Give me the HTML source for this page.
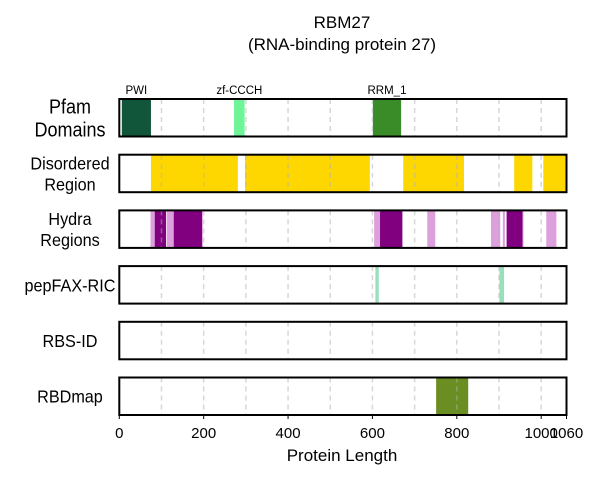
<!DOCTYPE html>
<html><head><meta charset="utf-8"><style>
body{margin:0;background:#fff;}
svg text{font-family:"Liberation Sans",Arial,sans-serif;fill:#000;}
</style></head><body>
<svg id="chart" width="600" height="480" xmlns="http://www.w3.org/2000/svg">
<text x="342" y="28" font-size="17" text-anchor="middle">RBM27</text>
<text x="342" y="50" font-size="17" text-anchor="middle">(RNA-binding protein 27)</text>
<g id="tracks"></g>
<g id="axis"></g>
<text x="342" y="461" font-size="17" text-anchor="middle">Protein Length</text>
</svg>
<script>
const trackNames = ["Pfam\nDomains","Disordered\nRegion","Hydra\nRegions","pepFAX-RIC","RBS-ID","RBDmap"];
const pfamStarts = [6, 272, 601];
const pfamEnds = [75, 297, 668];
const pfamLabels = ["PWI","zf-CCCH","RRM_1"];
const pfamColors = ["#11553a","#6ef59a","#3a8c29"];
const disStarts = [75, 298, 673, 936, 1005];
const disEnds = [281, 594, 817, 979, 1060];
const hydraStarts = [74, 84, 113, 129, 196, 604, 618, 730, 881, 909, 918, 956, 1012];
const hydraEnds = [84, 111, 129, 196, 198, 618, 671, 749, 903, 914, 956, 958, 1036];
const hydraStrong = [0, 1, 0, 1, 0, 0, 1, 0, 0, 0, 1, 0, 0];
const pepStarts = [607, 901];
const pepEnds = [615, 912];
const rbdStarts = [751];
const rbdEnds = [827];
const xTicks = [0, 200, 400, 600, 800, 1000, 1060];
const gridVals = [100,200,300,400,500,600,700,800,900,1000];
const maxLen = 1060;

const NS="http://www.w3.org/2000/svg";
const x0=119.3, x1=566.5;
const sx=v=>x0+(v/maxLen)*(x1-x0);
const rowY=i=>99+i*55.7, rowH=37.5;
const T=document.getElementById('tracks'), A=document.getElementById('axis');
function mk(tag,attrs,parent){const e=document.createElementNS(NS,tag);for(const k in attrs)e.setAttribute(k,attrs[k]);parent.appendChild(e);return e;}
function rect(parent,a,b,i,color,name){
  const r=mk('rect',{x:sx(a),y:rowY(i),width:sx(b)-sx(a),height:rowH,fill:color},parent);
  
  
}
trackNames.forEach((n,i)=>{
  const g=mk('g',{},T);
  
  
  mk('rect',{x:x0,y:rowY(i),width:x1-x0,height:rowH,fill:'#fff'},g);
  if(i===0){pfamStarts.forEach((s,k)=>{rect(g,s,pfamEnds[k],0,pfamColors[k],'pfam-domain');
      const t=mk('text',{x:(sx(s)+sx(pfamEnds[k]))/2,y:rowY(0)-5,'font-size':11.5,'text-anchor':'middle'},g);t.textContent=pfamLabels[k];
      
      });}
  if(i===1)disStarts.forEach((s,k)=>rect(g,s,disEnds[k],1,'#ffd700','disordered-region'));
  if(i===2)hydraStarts.forEach((s,k)=>rect(g,s,hydraEnds[k],2,hydraStrong[k]?'#800080':'#dda0dd','hydra-region'));
  if(i===3)pepStarts.forEach((s,k)=>rect(g,s,pepEnds[k],3,'#98dfbc','pepfax-site'));
  if(i===5)rbdStarts.forEach((s,k)=>rect(g,s,rbdEnds[k],5,'#6b8e23','rbdmap-region'));
  gridVals.forEach(v=>{mk('line',{x1:sx(v),x2:sx(v),y1:rowY(i),y2:rowY(i)+rowH,stroke:'#b0b0b0','stroke-opacity':0.5,'stroke-width':1.5,'stroke-dasharray':'5,4'},g);});
  mk('rect',{x:x0,y:rowY(i),width:x1-x0,height:rowH,fill:'none',stroke:'#000','stroke-width':2},g);
  const lines=n.split('\n');
  const fs=i===0?20:18;
  const sc=0.9;
  const t=mk('text',{'font-size':fs,'text-anchor':'middle',transform:'scale('+sc+',1)'},g);
  
  
  const cy=rowY(i)+rowH/2;
  lines.forEach((l,k)=>{const ts=mk('tspan',{x:70/sc,y:cy+(k-(lines.length-1)/2)*(fs+3)+fs*0.36},t);ts.textContent=l;});
});
xTicks.forEach(v=>{
  mk('line',{x1:sx(v),x2:sx(v),y1:414.5,y2:419,stroke:'#000','stroke-width':1},A);
  const t=mk('text',{x:sx(v),y:438,'font-size':15,'text-anchor':'middle'},A);
  t.textContent=v;
  
  
});
</script>
</body></html>
